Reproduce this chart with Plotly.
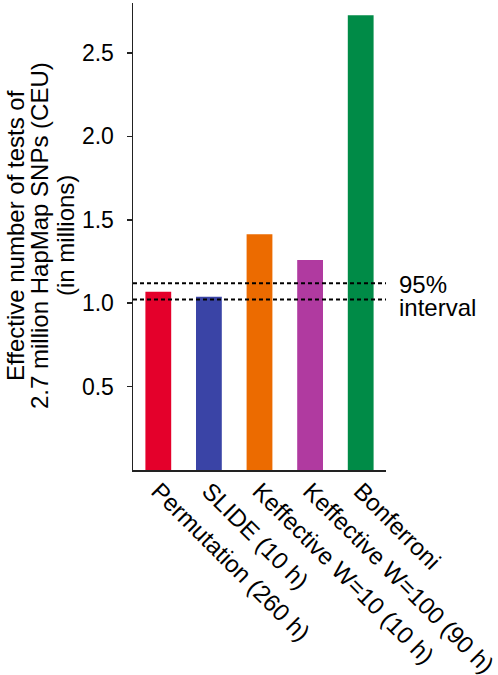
import plotly.graph_objects as go

categories = ["Permutation (260 h)", "SLIDE (10 h)", "Keffective W=10 (10 h)",
              "Keffective W=100 (90 h)", "Bonferroni"]
values = [1.069, 1.039, 1.414, 1.259, 2.726]
colors = ["#E4002B", "#3A44A6", "#EC6B00", "#B03AA0", "#008B47"]
interval_bounds = [1.022, 1.119]
y_tickvals = [0.5, 1.0, 1.5, 2.0, 2.5]
y_ticktext = ["0.5", "1.0", "1.5", "2.0", "2.5"]
title_lines = ["Effective number of tests of",
               "2.7 million HapMap SNPs (CEU)",
               "(in millions)"]
interval_label = ["95%", "interval"]

FONT = "Liberation Sans, Arial, Helvetica, sans-serif"

fig = go.Figure()
fig.add_trace(go.Bar(x=list(range(len(categories))), y=values,
                     marker=dict(color=colors, line=dict(width=0)),
                     width=0.51, hoverinfo="skip"))

for yv in interval_bounds:
    fig.add_shape(type="line", xref="paper", yref="y", x0=0, x1=1, y0=yv, y1=yv,
                  line=dict(color="black", width=2, dash="4px,3px"))

# y-axis title lines (tight line spacing)
L, W = 133, 253
for i, (txt, px) in enumerate(zip(title_lines, [15, 39, 65])):
    fig.add_annotation(text=txt, xref="paper", yref="paper",
                       x=(px - L) / W, y=(470 - 236) / 467,
                       xanchor="center", yanchor="middle", textangle=-90,
                       showarrow=False, font=dict(size=24, color="black", family=FONT))

for txt, py in zip(interval_label, [284, 307]):
    fig.add_annotation(text=txt, xref="paper", yref="paper",
                       x=(397 - L) / W, y=(470 - py) / 467,
                       xanchor="left", yanchor="middle",
                       showarrow=False, font=dict(size=24, color="black", family=FONT))

fig.update_layout(
    width=498, height=675,
    margin=dict(l=133, r=112, t=3, b=205),
    plot_bgcolor="white", paper_bgcolor="white",
    showlegend=False, hovermode=False,
    font=dict(family=FONT, color="black", size=24),
    xaxis=dict(range=[-0.5, 4.5], tickvals=list(range(len(categories))),
               ticktext=categories, tickangle=45, showline=True,
               linecolor="#222", linewidth=1.5, ticks="", showgrid=False,
               zeroline=False, tickfont=dict(size=24), automargin=False,
               ticklabeloverflow="allow", ticklabelstandoff=-4, fixedrange=True),
    yaxis=dict(range=[0, 2.8], tickvals=y_tickvals, ticktext=y_ticktext,
               showline=True, linecolor="#222", linewidth=1.5, ticks="outside",
               ticklen=5, tickwidth=1.5, tickcolor="#222", showgrid=False,
               zeroline=False, tickfont=dict(size=23), ticklabelstandoff=8,
               automargin=False, fixedrange=True),
)

fig.write_html("out.html", config={"displayModeBar": False, "staticPlot": True},
               post_script="document.body.style.margin='0';")
